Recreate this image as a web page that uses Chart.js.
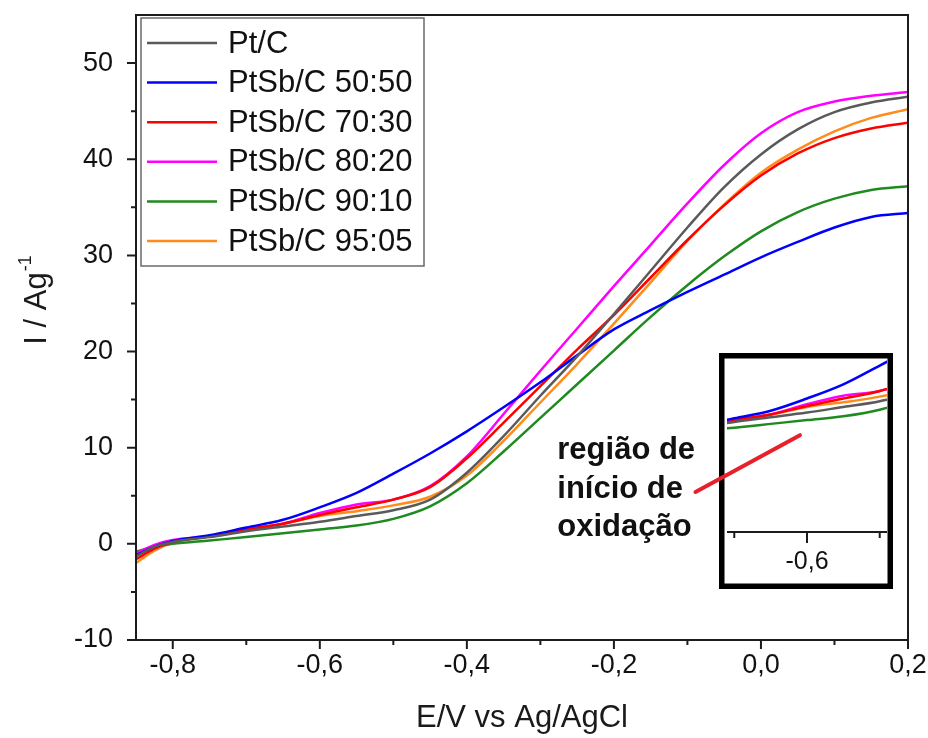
<!DOCTYPE html>
<html>
<head>
<meta charset="utf-8">
<script src="https://cdn.jsdelivr.net/npm/chart.js@4/dist/chart.umd.min.js"></script>
<style>
  html, body { margin: 0; padding: 0; background: #fff; }
  #wrap { position: relative; width: 928px; height: 738px; }
  #main { position: absolute; left: 0; top: 0; z-index: 2; }
  #inset { position: absolute; left: 719px; top: 353px; z-index: 1; background: #fff; }
</style>
</head>
<body>
<div id="wrap">
  <canvas id="main" width="928" height="738"></canvas>
  <canvas id="inset" width="174" height="236"></canvas>
</div>
<script>
// ---------- data (E / V vs Ag/AgCl, I / A g^-1) ----------
const potentials = [-0.85, -0.825, -0.8, -0.75, -0.7, -0.65, -0.6, -0.55, -0.5, -0.45, -0.4, -0.35, -0.3, -0.25, -0.2, -0.15, -0.1, -0.05, 0, 0.05, 0.1, 0.15, 0.2];

const ptC      = [-1.3, -0.3, 0.2, 0.7, 1.3, 1.8, 2.3, 2.9, 3.5, 4.6, 7.4, 11.2, 15.4, 19.5, 23.9, 28.4, 32.9, 37.1, 40.5, 43.1, 44.9, 45.9, 46.5];
const ptSb5050 = [-1.2, -0.3, 0.3, 0.9, 1.7, 2.5, 3.8, 5.3, 7.3, 9.4, 11.7, 14.2, 16.8, 19.6, 22.3, 24.3, 26.2, 28.0, 29.8, 31.4, 32.9, 34.0, 34.4];
const ptSb7030 = [-1.6, -0.5, 0.2, 0.8, 1.5, 2.1, 3.0, 3.8, 4.6, 5.9, 8.9, 12.6, 16.4, 20.2, 23.8, 27.7, 31.6, 35.2, 38.3, 40.6, 42.2, 43.2, 43.8];
const ptSb8020 = [-1.0, -0.1, 0.4, 0.8, 1.5, 2.1, 3.2, 4.1, 4.6, 6.0, 9.1, 13.5, 18.0, 22.4, 26.8, 31.1, 35.4, 39.4, 42.7, 44.9, 46.0, 46.6, 47.0];
const ptSb9010 = [-0.8, -0.3, 0.0, 0.35, 0.7, 1.1, 1.5, 1.9, 2.6, 3.9, 6.3, 9.6, 13.1, 16.6, 20.1, 23.6, 26.9, 29.9, 32.5, 34.5, 35.9, 36.8, 37.2];
const ptSb9505 = [-2.0, -0.7, 0.1, 0.8, 1.5, 2.1, 2.9, 3.4, 4.0, 4.9, 7.1, 10.7, 14.7, 18.7, 22.9, 27.2, 31.5, 35.3, 38.6, 41.0, 42.9, 44.3, 45.2];

const seriesLabels = ['Pt/C', 'PtSb/C 50:50', 'PtSb/C 70:30', 'PtSb/C 80:20', 'PtSb/C 90:10', 'PtSb/C 95:05'];
const seriesValues = [ptC, ptSb5050, ptSb7030, ptSb8020, ptSb9010, ptSb9505];
const seriesColors = ['#5a5a5a', '#0000ff', '#ff0000', '#ff00ff', '#1f8a1f', '#ff8c1a'];

// tick values
const xMajor = [-0.8, -0.6, -0.4, -0.2, 0.0, 0.2];
const xMinor = [-0.7, -0.5, -0.3, -0.1, 0.1];
const yMajor = [-10, 0, 10, 20, 30, 40, 50];
const yMinor = [-5, 5, 15, 25, 35, 45];
const insetMajor = [-0.6];
const insetMinor = [-0.7, -0.5];

// annotation (data units of the main axes)
const noteLines = ['região de', 'início de', 'oxidação'];
const noteAnchor = { x: -0.277, y: 9.7 };
const pointerFrom = { x: -0.089, y: 5.4 };
const pointerTo = { x: 0.053, y: 11.3 };

// ---------- helpers ----------
const FONT = '"Liberation Sans", Arial, Helvetica, sans-serif';
const fmt = v => (Math.abs(v) < 1e-9 ? 0 : v).toFixed(1).replace('.', ',');

function buildDatasets() {
  return seriesLabels.map((label, i) => ({
    label,
    data: potentials.map((e, k) => ({ x: e, y: seriesValues[i][k] })),
    borderColor: seriesColors[i],
    backgroundColor: seriesColors[i],
    borderWidth: 2.5,
    pointRadius: 0,
    fill: false,
    cubicInterpolationMode: 'monotone'
  }));
}

function zeroPad(s) {
  s.paddingTop = 0; s.paddingBottom = 0; s.paddingLeft = 0; s.paddingRight = 0;
}

// ---------- main chart ----------
const mainDecor = {
  id: 'mainDecor',
  afterDraw(chart) {
    const { ctx, chartArea: a, scales: { x, y } } = chart;
    ctx.save();
    // frame
    ctx.strokeStyle = '#1c1c1c';
    ctx.lineWidth = 2;
    ctx.strokeRect(a.left, a.top, a.right - a.left, a.bottom - a.top);
    // ticks
    ctx.beginPath();
    xMajor.forEach(v => { const p = x.getPixelForValue(v); ctx.moveTo(p, a.bottom); ctx.lineTo(p, a.bottom + 9); });
    xMinor.forEach(v => { const p = x.getPixelForValue(v); ctx.moveTo(p, a.bottom); ctx.lineTo(p, a.bottom + 5); });
    yMajor.forEach(v => { const p = y.getPixelForValue(v); ctx.moveTo(a.left - 9, p); ctx.lineTo(a.left, p); });
    yMinor.forEach(v => { const p = y.getPixelForValue(v); ctx.moveTo(a.left - 5, p); ctx.lineTo(a.left, p); });
    ctx.stroke();

    // axis titles
    ctx.fillStyle = '#1a1a1a';
    ctx.font = '31px ' + FONT;
    ctx.textAlign = 'center';
    ctx.textBaseline = 'middle';
    ctx.fillText('E/V vs Ag/AgCl', (a.left + a.right) / 2, a.bottom + 78);

    ctx.save();
    ctx.translate(37, 300);
    ctx.rotate(-Math.PI / 2);
    const main = 'I / Ag';
    const sup = '-1';
    ctx.font = '18px ' + FONT;
    const supW = ctx.measureText(sup).width;
    ctx.font = '31px ' + FONT;
    const mainW = ctx.measureText(main).width;
    const total = mainW + supW + 1;
    ctx.textAlign = 'left';
    ctx.fillText(main, -total / 2, 0);
    ctx.font = '18px ' + FONT;
    ctx.fillText(sup, -total / 2 + mainW + 1, -11);
    ctx.restore();

    // legend
    const lx = a.left + 5, ly = a.top + 3, lw = 283, lh = 248, row = 39.6;
    ctx.fillStyle = '#fff';
    ctx.fillRect(lx, ly, lw, lh);
    ctx.strokeStyle = '#6a6a6a';
    ctx.lineWidth = 1.5;
    ctx.strokeRect(lx, ly, lw, lh);
    chart.data.datasets.forEach((ds, i) => {
      const cy = ly + 25 + i * row;
      ctx.strokeStyle = ds.borderColor;
      ctx.lineWidth = 2.5;
      ctx.beginPath();
      ctx.moveTo(lx + 6, cy);
      ctx.lineTo(lx + 76, cy);
      ctx.stroke();
      ctx.fillStyle = '#111';
      ctx.font = '31px ' + FONT;
      ctx.textAlign = 'left';
      ctx.textBaseline = 'middle';
      ctx.fillText(ds.label, lx + 87, cy + 1);
    });

    // annotation text
    ctx.fillStyle = '#111';
    ctx.font = 'bold 31px ' + FONT;
    ctx.textAlign = 'left';
    ctx.textBaseline = 'middle';
    const tx = x.getPixelForValue(noteAnchor.x);
    const ty = y.getPixelForValue(noteAnchor.y);
    noteLines.forEach((t, i) => ctx.fillText(t, tx, ty + i * 38.5));

    // pointer line
    ctx.strokeStyle = '#e8202a';
    ctx.lineWidth = 4;
    ctx.lineCap = 'round';
    ctx.beginPath();
    ctx.moveTo(x.getPixelForValue(pointerFrom.x), y.getPixelForValue(pointerFrom.y));
    ctx.lineTo(x.getPixelForValue(pointerTo.x), y.getPixelForValue(pointerTo.y));
    ctx.stroke();
    ctx.restore();
  }
};

new Chart(document.getElementById('main'), {
  type: 'line',
  data: { datasets: buildDatasets() },
  options: {
    responsive: false,
    animation: false,
    devicePixelRatio: 1,
    layout: { padding: { top: 15, right: 20, left: 0, bottom: 0 } },
    plugins: { legend: { display: false }, tooltip: { enabled: false } },
    scales: {
      x: {
        type: 'linear',
        min: -0.85,
        max: 0.2,
        grid: { display: false, drawTicks: false },
        border: { display: false },
        afterBuildTicks: s => { s.ticks = xMajor.map(v => ({ value: v })); },
        afterFit: s => { s.height = 98; zeroPad(s); },
        ticks: {
          autoSkip: false,
          maxRotation: 0,
          padding: 9,
          color: '#111',
          font: { family: FONT, size: 27 },
          callback: v => fmt(v)
        }
      },
      y: {
        type: 'linear',
        min: -10,
        max: 55,
        grid: { display: false, drawTicks: false },
        border: { display: false },
        afterBuildTicks: s => { s.ticks = yMajor.map(v => ({ value: v })); },
        afterFit: s => { s.width = 136; zeroPad(s); },
        ticks: {
          autoSkip: false,
          padding: 23,
          color: '#111',
          font: { family: FONT, size: 27 },
          callback: v => String(v)
        }
      }
    }
  },
  plugins: [mainDecor]
});

// ---------- inset ----------
const insetDecor = {
  id: 'insetDecor',
  afterDraw(chart) {
    const { ctx, chartArea: a, scales: { x } } = chart;
    ctx.save();
    ctx.strokeStyle = '#1c1c1c';
    ctx.lineWidth = 2;
    ctx.beginPath();
    ctx.moveTo(a.left, a.bottom);
    ctx.lineTo(a.right, a.bottom);
    insetMajor.forEach(v => { const p = x.getPixelForValue(v); ctx.moveTo(p, a.bottom); ctx.lineTo(p, a.bottom + 11); });
    insetMinor.forEach(v => { const p = x.getPixelForValue(v); ctx.moveTo(p, a.bottom); ctx.lineTo(p, a.bottom + 6); });
    ctx.stroke();
    ctx.strokeStyle = '#000';
    ctx.lineWidth = 5.5;
    ctx.strokeRect(2.75, 2.75, chart.width - 5.5, chart.height - 5.5);
    ctx.restore();
  }
};

new Chart(document.getElementById('inset'), {
  type: 'line',
  data: { datasets: buildDatasets() },
  options: {
    responsive: false,
    animation: false,
    devicePixelRatio: 1,
    layout: { padding: { top: 6, right: 6, left: 8, bottom: 0 } },
    plugins: { legend: { display: false }, tooltip: { enabled: false } },
    scales: {
      x: {
        type: 'linear',
        min: -0.71,
        max: -0.49,
        grid: { display: false, drawTicks: false },
        border: { display: false },
        afterBuildTicks: s => { s.ticks = insetMajor.map(v => ({ value: v })); },
        afterFit: s => { s.height = 57; zeroPad(s); },
        ticks: {
          autoSkip: false,
          maxRotation: 0,
          padding: 15,
          color: '#111',
          font: { family: FONT, size: 25 },
          callback: v => fmt(v)
        }
      },
      y: {
        type: 'linear',
        display: false,
        min: -10.4,
        max: 8.0
      }
    }
  },
  plugins: [insetDecor]
});
</script>
</body>
</html>
